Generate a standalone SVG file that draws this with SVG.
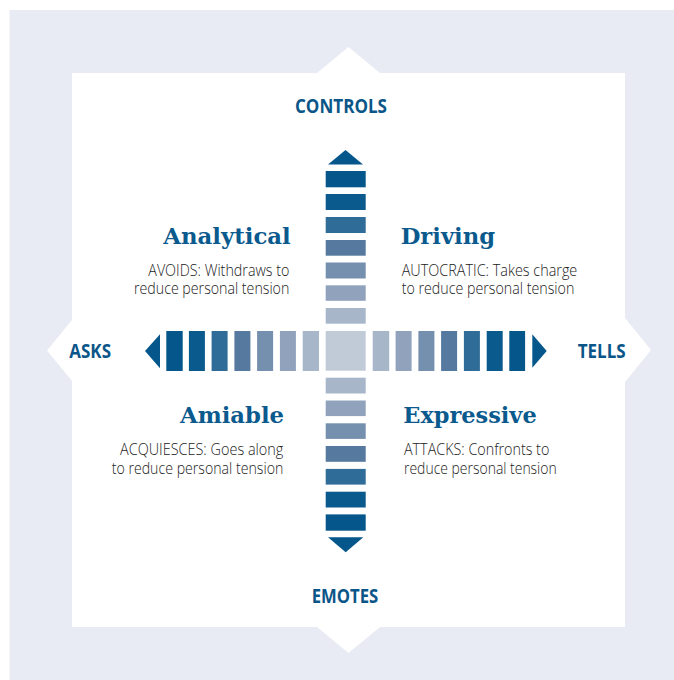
<svg xmlns="http://www.w3.org/2000/svg" width="674" height="680" viewBox="0 0 674 680">
  <style>
    .axis { font-family: "Open Sans", "Noto Sans", "Liberation Sans", sans-serif; font-weight: 700; font-size: 19px; fill: #0b5688; }
    .title { font-family: "DejaVu Serif Condensed", "DejaVu Serif", serif; font-weight: 700; font-size: 22px; fill: #0b5a8e; }
    .body { font-family: "Open Sans", "Noto Sans", "Liberation Sans", sans-serif; font-weight: 300; font-size: 15.5px; fill: #222222; }
    .c1 { fill: #04568b; }
    .c2 { fill: #0a5a8d; }
    .c3 { fill: #2f6c97; }
    .c4 { fill: #56799f; }
    .c5 { fill: #758fae; }
    .c6 { fill: #91a3bc; }
    .c7 { fill: #a8b6c9; }
    .c0 { fill: #c1cbd8; }
  </style>

  <!-- backdrop and white panel with pointed sides -->
  <rect x="9.5" y="10" width="664.5" height="670" fill="#e8ebf3"/>
  <path d="M72,73 H317 L348.5,47 L380,73 H625 V318 L651,350 L625,382 V627 H380 L348.5,653 L317,627 H72 V381 L47,350.5 L72,320 Z" fill="#ffffff"/>

  <!-- axis arrows built from graded bars -->
  <g id="connectors">
    <!-- vertical arrow -->
    <polygon class="c1" points="345.5,150 363,164.5 328,164.5"/>
    <rect class="c1" x="325.7" y="171" width="40" height="16.3"/>
    <rect class="c2" x="325.7" y="194" width="40" height="16"/>
    <rect class="c3" x="325.7" y="217" width="40" height="16"/>
    <rect class="c4" x="325.7" y="240" width="40" height="15.7"/>
    <rect class="c5" x="325.7" y="262.5" width="40" height="16"/>
    <rect class="c6" x="325.7" y="285.3" width="40" height="15.5"/>
    <rect class="c7" x="325.7" y="308" width="40" height="15.7"/>
    <rect class="c0" x="325.7" y="331" width="40" height="39.7"/>
    <rect class="c7" x="325.7" y="377.7" width="40" height="15.8"/>
    <rect class="c6" x="325.7" y="400.5" width="40" height="15.6"/>
    <rect class="c5" x="325.7" y="423.3" width="40" height="15.6"/>
    <rect class="c4" x="325.7" y="446" width="40" height="15.8"/>
    <rect class="c3" x="325.7" y="468.9" width="40" height="15.7"/>
    <rect class="c2" x="325.7" y="491.7" width="40" height="15.8"/>
    <rect class="c1" x="325.7" y="514.4" width="40" height="16.3"/>
    <polygon class="c1" points="328,537.3 363.3,537.3 345.7,552.3"/>

    <!-- horizontal arrow -->
    <polygon class="c1" points="145,351 160,334.3 160,368.3"/>
    <rect class="c1" x="166.3" y="331" width="16.4" height="40"/>
    <rect class="c2" x="188.9" y="331" width="16" height="40"/>
    <rect class="c3" x="211.6" y="331" width="16" height="40"/>
    <rect class="c4" x="234.4" y="331" width="16" height="40"/>
    <rect class="c5" x="257.1" y="331" width="16" height="40"/>
    <rect class="c6" x="279.9" y="331" width="16" height="40"/>
    <rect class="c7" x="302.7" y="331" width="16.3" height="40"/>
    <rect class="c7" x="372.7" y="331" width="16.5" height="40"/>
    <rect class="c6" x="395.6" y="331" width="16" height="40"/>
    <rect class="c5" x="418.4" y="331" width="16" height="40"/>
    <rect class="c4" x="441.1" y="331" width="16" height="40"/>
    <rect class="c3" x="463.9" y="331" width="16" height="40"/>
    <rect class="c2" x="486.7" y="331" width="16" height="40"/>
    <rect class="c1" x="509.3" y="331" width="15.8" height="40"/>
    <polygon class="c1" points="532.3,334.3 546.7,351 532.3,367.7"/>
  </g>

  <!-- axis labels -->
  <g id="controls"><text class="axis" x="295" y="112.7" textLength="92" lengthAdjust="spacingAndGlyphs">CONTROLS</text></g>
  <g id="emotes"><text class="axis" x="311.7" y="603.3" textLength="66.6" lengthAdjust="spacingAndGlyphs">EMOTES</text></g>
  <g id="asks"><text class="axis" x="69.3" y="358.3" textLength="41.7" lengthAdjust="spacingAndGlyphs">ASKS</text></g>
  <g id="tells"><text class="axis" x="577.7" y="357.5" textLength="48" lengthAdjust="spacingAndGlyphs">TELLS</text></g>

  <!-- four styles -->
  <g id="analytical">
    <text class="title" x="163.3" y="244.3" textLength="127.4" lengthAdjust="spacingAndGlyphs">Analytical</text>
    <text class="body" x="148.3" y="275.7" textLength="141" lengthAdjust="spacingAndGlyphs">AVOIDS: Withdraws to</text>
    <text class="body" x="134" y="294.3" textLength="155.3" lengthAdjust="spacingAndGlyphs">reduce personal tension</text>
  </g>
  <g id="driving">
    <text class="title" x="400.7" y="244.3" textLength="94.3" lengthAdjust="spacingAndGlyphs">Driving</text>
    <text class="body" x="401.7" y="275.7" textLength="175.6" lengthAdjust="spacingAndGlyphs">AUTOCRATIC: Takes charge</text>
    <text class="body" x="401.7" y="294.3" textLength="172.6" lengthAdjust="spacingAndGlyphs">to reduce personal tension</text>
  </g>
  <g id="amiable">
    <text class="title" x="180" y="423.3" textLength="104" lengthAdjust="spacingAndGlyphs">Amiable</text>
    <text class="body" x="120" y="455" textLength="163.3" lengthAdjust="spacingAndGlyphs">ACQUIESCES: Goes along</text>
    <text class="body" x="111.7" y="474.3" textLength="171.6" lengthAdjust="spacingAndGlyphs">to reduce personal tension</text>
  </g>
  <g id="expressive">
    <text class="title" x="403.3" y="423.3" textLength="133.4" lengthAdjust="spacingAndGlyphs">Expressive</text>
    <text class="body" x="404" y="455" textLength="145.3" lengthAdjust="spacingAndGlyphs">ATTACKS: Confronts to</text>
    <text class="body" x="404" y="474.3" textLength="152.7" lengthAdjust="spacingAndGlyphs">reduce personal tension</text>
  </g>
</svg>
